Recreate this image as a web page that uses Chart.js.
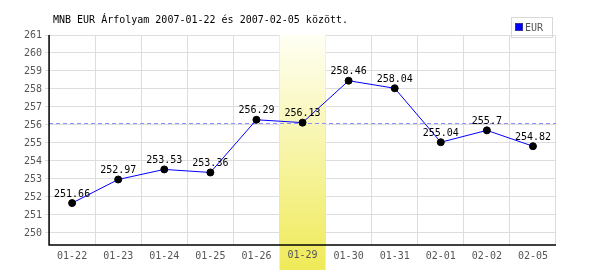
<!DOCTYPE html>
<html>
<head>
<meta charset="utf-8">
<script src="https://cdn.jsdelivr.net/npm/chart.js@4"></script>
<style>
  body { margin: 0; background: #fff; }
  #wrap { width: 600px; height: 270px; }
</style>
</head>
<body>
<div id="wrap"><canvas id="chart"></canvas></div>
<script>
const days = ['01-22', '01-23', '01-24', '01-25', '01-26', '01-29', '01-30', '01-31', '02-01', '02-02', '02-05'];
const eur = [251.66, 252.97, 253.53, 253.36, 256.29, 256.13, 258.46, 258.04, 255.04, 255.7, 254.82];
const yTicks = [250, 251, 252, 253, 254, 255, 256, 257, 258, 259, 260, 261];
const highlightDay = '01-29';
const refLevel = 256.13;
const titleText = 'MNB EUR Árfolyam 2007-01-22 és 2007-02-05 között.';

const mono = 'DejaVu Sans Mono';

// yellow band behind the highlighted day + dashed reference line
const bandPlugin = {
  id: 'band',
  beforeDatasetsDraw(chart) {
    const {ctx, chartArea, scales} = chart;
    const x = scales.x;
    const i = days.indexOf(highlightDay);
    const half = (x.getPixelForValue(1) - x.getPixelForValue(0)) / 2;
    const cx = x.getPixelForValue(i);
    const g = ctx.createLinearGradient(0, chartArea.top, 0, chart.height);
    g.addColorStop(0, '#fffff4');
    g.addColorStop(1, '#efea58');
    ctx.save();
    ctx.fillStyle = g;
    ctx.fillRect(cx - half, chartArea.top, half * 2, chart.height - chartArea.top);
    // label of the highlighted day is covered by the band, draw it again
    ctx.font = '10px "' + mono + '"';
    ctx.fillStyle = '#555';
    ctx.textAlign = 'center';
    ctx.textBaseline = 'top';
    ctx.fillText(highlightDay, cx, chartArea.bottom + 5);
    // dashed line
    const y = scales.y.getPixelForValue(refLevel);
    ctx.strokeStyle = '#8c8cff';
    ctx.lineWidth = 1;
    ctx.setLineDash([4, 3]);
    ctx.beginPath();
    ctx.moveTo(chartArea.left, Math.round(y) + 0.5);
    ctx.lineTo(chartArea.right, Math.round(y) + 0.5);
    ctx.stroke();
    ctx.setLineDash([]);
    // axis lines again on top of the band
    ctx.strokeStyle = '#000';
    ctx.lineWidth = 1.5;
    ctx.beginPath();
    ctx.moveTo(chartArea.left, chartArea.top);
    ctx.lineTo(chartArea.left, chartArea.bottom);
    ctx.lineTo(chartArea.right, chartArea.bottom);
    ctx.stroke();
    ctx.restore();
  },
  afterDatasetsDraw(chart) {
    const {ctx} = chart;
    const meta = chart.getDatasetMeta(0);
    ctx.save();
    ctx.font = '10px "' + mono + '"';
    ctx.fillStyle = '#000';
    ctx.textAlign = 'center';
    ctx.textBaseline = 'bottom';
    meta.data.forEach((pt, i) => {
      ctx.fillText(String(eur[i]), pt.x, pt.y - 4);
    });
    // title
    ctx.textAlign = 'left';
    ctx.textBaseline = 'middle';
    ctx.fillText(titleText, 53, 20);
    // legend box
    ctx.strokeStyle = '#d8d8d8';
    ctx.lineWidth = 1;
    ctx.strokeRect(511.5, 17.5, 41, 20);
    ctx.fillStyle = '#0000ff';
    ctx.fillRect(516, 24, 6, 6);
    ctx.strokeStyle = '#333399';
    ctx.strokeRect(515.5, 23.5, 7, 7);
    ctx.fillStyle = '#555';
    ctx.fillText(chart.data.datasets[0].label, 525, 28);
    ctx.restore();
  }
};

new Chart(document.getElementById('chart'), {
  type: 'line',
  data: {
    labels: days,
    datasets: [{
      label: 'EUR',
      data: eur,
      borderColor: '#0000ff',
      borderWidth: 1,
      pointBackgroundColor: '#000',
      pointBorderColor: '#000',
      pointRadius: 3.5,
      tension: 0
    }]
  },
  plugins: [bandPlugin],
  options: {
    responsive: true,
    maintainAspectRatio: false,
    animation: false,
    layout: { padding: { top: 35, right: 44, bottom: 3, left: 21 } },
    scales: {
      x: {
        offset: true,
        grid: { offset: true, color: '#dddddd', drawTicks: false },
        border: { display: false },
        ticks: { color: '#555', font: { family: mono, size: 10 }, padding: 5, maxRotation: 0 }
      },
      y: {
        min: 249.33,
        max: 261,
        afterBuildTicks(axis) {
          axis.ticks = yTicks.map(v => ({ value: v }));
        },
        grid: { color: '#dddddd', tickLength: 4 },
        border: { display: false },
        ticks: { color: '#555', font: { family: mono, size: 10 }, padding: 3 }
      }
    },
    plugins: {
      legend: { display: false },
      tooltip: { enabled: false }
    }
  }
});
</script>
</body>
</html>
